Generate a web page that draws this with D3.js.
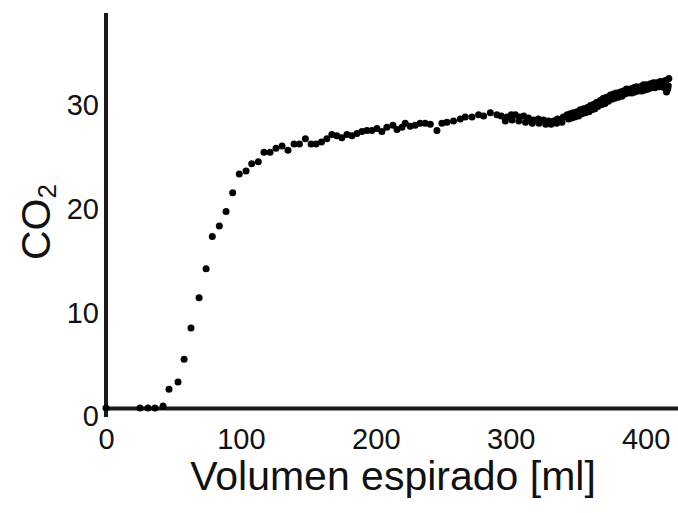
<!DOCTYPE html>
<html>
<head>
<meta charset="utf-8">
<script src="https://cdn.jsdelivr.net/npm/d3@7"></script>
<style>
body { margin:0; background:#fff; }
svg { display:block; font-family:"Liberation Sans", Arial, sans-serif; }
</style>
</head>
<body>
<div id="chart"></div>
<script>
// Volumen espirado [ml] / CO2
var volume = [0, 25.2, 31.1, 36.3, 42.3, 46.7, 53.4, 57.9, 63.0, 69.0, 74.2, 78.8, 84.0, 89.0, 93.9, 98.8,
	103.8, 108.0, 112.9, 117.1, 121.6, 126.0, 130.5, 134.9, 139.4, 143.4, 147.8, 152.0, 155.7, 159.7,
	163.7, 167.4, 171.1, 174.8, 178.6, 182.3, 186.0, 189.7, 193.4, 197.1, 200.8, 204.5, 208.2, 212.7,
	215.7, 219.4, 221.8, 225.5, 229.2, 232.9, 236.6, 240.4, 245.3, 249.0, 252.7, 257.6, 262.6, 266.3,
	271.3, 276.2, 279.9, 284.9, 289.8, 293.0, 296.0, 297.3, 300.4, 301.0, 303.4, 306.0, 306.4, 309.6,
	311.0, 313.1, 316.0, 317.0, 320.5, 321.0, 324.4, 326.0, 327.9, 330.0, 331.8, 334.0, 334.6, 336.8,
	338.0, 339.0, 341.8, 342.9, 344.2, 345.3, 346.4, 347.5, 349.2, 350.3, 351.6, 352.8, 354.1, 355.4,
	356.8, 358.0, 359.1, 360.2, 361.3, 362.4, 363.5, 364.6, 366.5, 367.6, 368.7, 369.9, 371.0, 372.4,
	373.9, 375.0, 376.1, 377.2, 378.3, 379.8, 381.3, 382.4, 383.5, 384.6, 385.8, 387.2, 388.7, 389.8,
	391.0, 392.0, 393.2, 394.6, 396.1, 397.2, 398.4, 399.5, 400.6, 402.0, 403.6, 404.6, 405.8, 406.9,
	408.0, 409.4, 410.9, 412.0, 413.2, 414.0, 414.7, 415.5, 416.4, 416.8, 417.2];
var co2 = [0, 0, 0, 0, 0.2, 1.8, 2.5, 4.7, 7.7, 10.6, 13.4, 16.5, 17.5, 18.9, 20.7, 22.5,
	22.8, 23.5, 23.7, 24.6, 24.6, 25.0, 25.2, 24.8, 25.4, 25.4, 25.9, 25.4, 25.4, 25.6,
	25.9, 26.3, 26.2, 26.0, 26.3, 26.2, 26.4, 26.6, 26.7, 26.7, 26.9, 26.6, 27.0, 27.2,
	26.8, 27.0, 27.4, 27.1, 27.2, 27.4, 27.4, 27.3, 26.7, 27.4, 27.5, 27.6, 27.8, 28.0,
	28.0, 28.2, 28.1, 28.4, 28.2, 28.1, 27.6, 28.0, 28.2, 27.7, 28.2, 27.6, 28.0, 28.1,
	27.5, 27.9, 27.4, 27.7, 27.8, 27.4, 27.7, 27.3, 27.6, 27.3, 27.6, 27.4, 27.8, 27.7,
	27.5, 28.0, 28.2, 27.8, 28.3, 27.9, 28.4, 28.0, 28.5, 28.1, 28.7, 28.3, 28.8, 28.4,
	28.9, 28.5, 29.1, 28.7, 29.2, 28.8, 29.4, 29.0, 29.6, 29.2, 29.8, 29.3, 29.9, 29.5,
	30.1, 29.7, 30.2, 29.8, 30.3, 29.9, 30.4, 30.0, 30.5, 30.2, 30.7, 30.3, 30.7, 30.3,
	30.8, 30.4, 30.9, 30.5, 30.9, 30.5, 31.1, 30.6, 31.1, 30.7, 31.2, 30.8, 31.3, 30.8,
	31.3, 30.9, 31.4, 30.9, 31.4, 30.8, 31.5, 30.4, 30.7, 31.0, 31.7];
var xTicks = [0, 100, 200, 300, 400];
var yTicks = [0, 10, 20, 30];

var width = 678, height = 513;
var svg = d3.select("#chart").append("svg").attr("width", width).attr("height", height);

var xscale = d3.scaleLinear().domain([0, 424]).range([106, 678]);
var yscale = d3.scaleLinear().domain([0, 38]).range([408, 13]);

var ink = "#1c1a17";

// axes: plain lines, no tick marks
var xAxis = svg.append("g").attr("transform", "translate(0," + yscale(0) + ")")
	.call(d3.axisBottom(xscale).tickValues(xTicks).tickSize(0).tickPadding(20));
xAxis.select(".domain").attr("stroke", ink).attr("stroke-width", 4);
xAxis.selectAll("text").attr("font-size", 29).attr("fill", "#111").attr("font-family", null);

var yAxis = svg.append("g").attr("transform", "translate(" + xscale(0) + ",0)")
	.call(d3.axisLeft(yscale).tickValues(yTicks).tickSize(0).tickPadding(7));
yAxis.select(".domain").attr("stroke", ink).attr("stroke-width", 4)
	.attr("d", "M0," + yscale(38) + "V" + (yscale(0) + 9));
yAxis.selectAll("text").attr("font-size", 29).attr("fill", "#111").attr("font-family", null)
	.attr("dy", "0.62em");

svg.selectAll("circle").data(volume).enter().append("circle")
	.attr("cx", function(d, i)
	{
		return xscale(d);
	})
	.attr("cy", function(d, i)
	{
		return yscale(co2[i]);
	})
	.attr("r", 3.5)
	.attr("fill", "#000");

svg.append("text").attr("x", 393).attr("y", 490).attr("text-anchor", "middle")
	.attr("font-size", 41).attr("fill", "#111").text("Volumen espirado [ml]");

var ylab = svg.append("text").attr("transform", "translate(50,222) rotate(-90)")
	.attr("text-anchor", "middle").attr("font-size", 41).attr("fill", "#111");
ylab.append("tspan").text("CO");
ylab.append("tspan").attr("font-size", 26).attr("dy", 6).text("2");
</script>
</body>
</html>
